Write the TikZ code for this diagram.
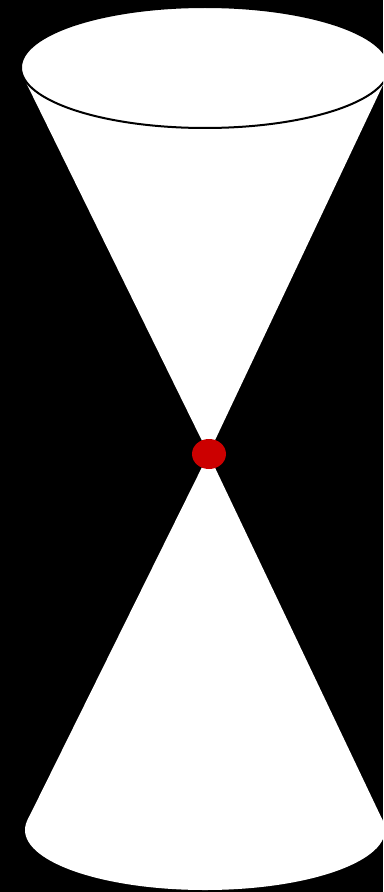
\documentclass[tikz,border=0pt]{standalone}
\definecolor{eventRed}{HTML}{CC0000}
\begin{document}
\begin{tikzpicture}[
  x=0.02cm, y=-0.02cm,
  sky/.style={fill=black},
  cone/.style={fill=white,draw=none},
  rim/.style={draw=black,line width=.04cm},
  event/.style={fill=eventRed}
]
% background, also fixes the picture's size
\fill[sky] (0,0) rectangle (383,892);
\clip (0,0) rectangle (383,892);
\coordinate (apex) at (208.5,454);
\coordinate (top) at (205,67.5);
\coordinate (bottom) at (205,830);
% future cone
\fill[cone] (23.3,77) -- (apex) -- (386.7,77) -- cycle;
\path[cone,rim] (top) ellipse (184 and 60.5);
% past cone
\fill[cone] (27.3,820.4) -- (apex) -- (382.7,820.4) -- cycle;
\fill[cone] (bottom) ellipse (180 and 60);
% the event
\fill[event] (209,454) ellipse (17 and 15);
\end{tikzpicture}
\end{document}
